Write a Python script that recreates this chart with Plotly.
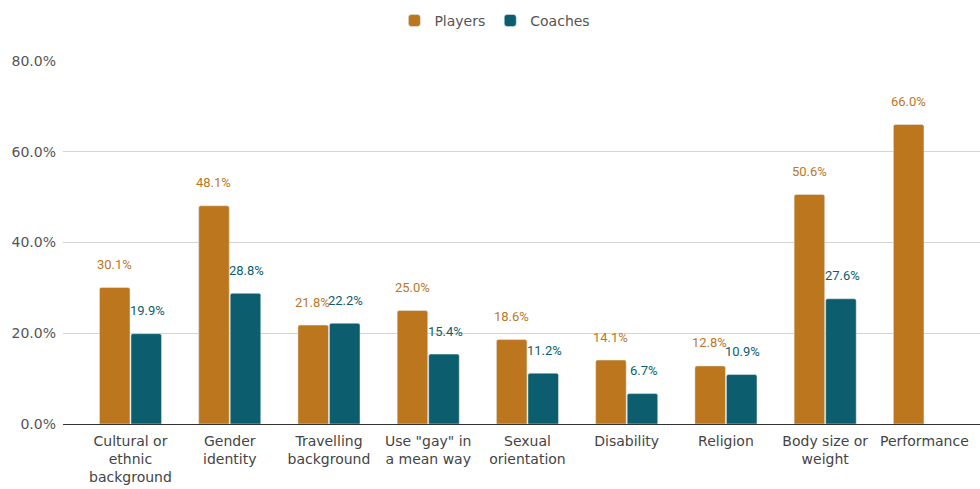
"""Grouped bar chart: players vs coaches."""

import plotly.graph_objects as go

categories = [
    "Cultural or<br>ethnic<br>background",
    "Gender<br>identity",
    "Travelling<br>background",
    "Use \"gay\" in<br>a mean way",
    "Sexual<br>orientation",
    "Disability",
    "Religion",
    "Body size or<br>weight",
    "Performance",
]
players = [30.1, 48.1, 21.8, 25.0, 18.6, 14.1, 12.8, 50.6, 66.0]
coaches = [19.9, 28.8, 22.2, 15.4, 11.2, 6.7, 10.9, 27.6, None]

PLAYER_COLOR = "#BC771E"
COACH_COLOR = "#0C5E6E"

fig = go.Figure()
fig.add_trace(go.Bar(x=categories, y=players, name="Players",
                     marker=dict(color=PLAYER_COLOR, cornerradius=2)))
fig.add_trace(go.Bar(x=categories, y=coaches, name="Coaches",
                     marker=dict(color=COACH_COLOR, cornerradius=2)))

# value labels floating above each bar
for vals, color, dx in [(players, PLAYER_COLOR, -16), (coaches, COACH_COLOR, 17)]:
    for cat, v in zip(categories, vals):
        if v is None:
            continue
        fig.add_annotation(x=cat, y=v, text=f"{v:.1f}%", showarrow=False,
                           xshift=dx, yshift=23, yanchor="middle",
                           font=dict(family="Roboto", size=13, color=color))

fig.update_layout(
    width=980, height=489,
    margin=dict(l=63, r=0, t=61, b=65),
    plot_bgcolor="white", paper_bgcolor="white",
    barmode="group", bargap=0.365, bargroupgap=0.03,
    font=dict(family="DejaVu Sans", size=14, color="#444444"),
    legend=dict(orientation="h", xref="container", yref="container",
                x=0.505, xanchor="center", y=0.99, yanchor="top",
                font=dict(size=14, color="#555555")),
    showlegend=True,
)
fig.update_xaxes(range=[-0.68, 8.56], tickfont=dict(size=14, color="#444444"),
                 showgrid=False, ticks="", showline=False, ticklabelstandoff=7)
fig.update_yaxes(range=[0, 80], dtick=20, tickformat=".1f", ticksuffix="%",
                 gridcolor="#d4d4d4", zeroline=True, zerolinecolor="#333333",
                 zerolinewidth=1, tickfont=dict(size=14, color="#555555"),
                 ticklabelstandoff=6)

# drop the default page margin so the figure sits at the window corner
fig.write_html("out.html", config={"displayModeBar": False},
               post_script="document.body.style.margin = '0';")
